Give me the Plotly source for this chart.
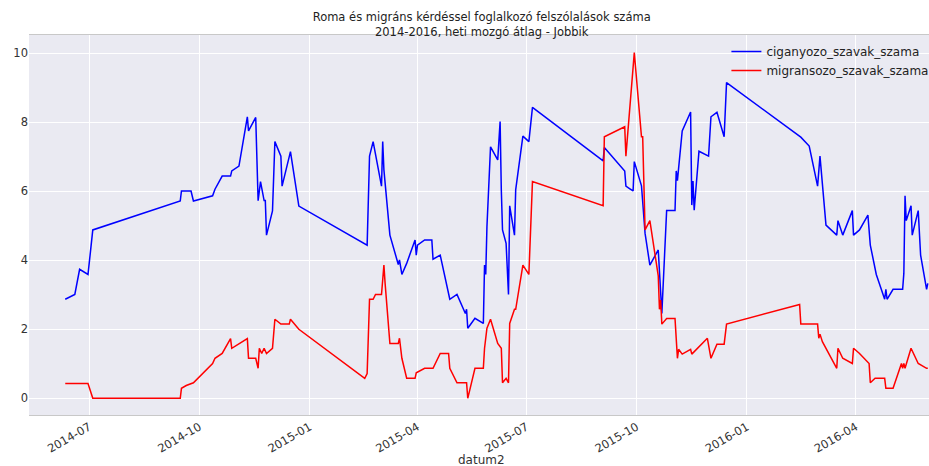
import plotly.graph_objects as go

# ---- data ----
cig_dates = [
    "2014-06-11", "2014-06-19", "2014-06-23", "2014-06-30", "2014-07-04", "2014-09-15", "2014-09-16",
    "2014-09-24", "2014-09-26", "2014-10-12", "2014-10-14", "2014-10-20", "2014-10-27", "2014-10-28",
    "2014-11-03", "2014-11-10", "2014-11-11", "2014-11-17", "2014-11-19", "2014-11-21", "2014-11-24",
    "2014-11-25", "2014-11-26", "2014-12-01", "2014-12-03", "2014-12-08", "2014-12-09", "2014-12-16",
    "2014-12-23",
    "2015-02-17", "2015-02-18", "2015-02-20", "2015-02-23", "2015-03-02", "2015-03-03", "2015-03-04",
    "2015-03-09", "2015-03-16", "2015-03-17", "2015-03-19", "2015-03-23", "2015-03-30", "2015-03-31",
    "2015-04-01", "2015-04-07", "2015-04-13", "2015-04-14", "2015-04-20", "2015-04-28", "2015-05-04",
    "2015-05-11", "2015-05-12", "2015-05-13", "2015-05-19", "2015-05-26", "2015-05-27", "2015-05-28",
    "2015-05-29", "2015-06-01", "2015-06-07", "2015-06-09", "2015-06-10", "2015-06-11", "2015-06-14",
    "2015-06-16", "2015-06-17", "2015-06-21", "2015-06-22", "2015-06-28", "2015-07-03", "2015-07-06",
    "2015-09-03", "2015-09-04", "2015-09-21", "2015-09-22", "2015-09-25", "2015-09-28", "2015-09-29",
    "2015-10-05", "2015-10-08", "2015-10-12", "2015-10-19", "2015-10-22", "2015-10-26", "2015-11-02",
    "2015-11-03", "2015-11-04", "2015-11-08", "2015-11-15", "2015-11-16", "2015-11-17", "2015-11-18",
    "2015-11-22", "2015-11-30", "2015-12-02", "2015-12-07", "2015-12-13", "2015-12-15",
    "2016-02-15", "2016-02-22", "2016-02-29", "2016-03-02", "2016-03-07", "2016-03-16", "2016-03-17",
    "2016-03-21", "2016-03-29", "2016-03-30", "2016-04-04", "2016-04-11", "2016-04-13", "2016-04-18",
    "2016-04-25", "2016-04-26", "2016-04-27", "2016-05-02", "2016-05-10", "2016-05-11", "2016-05-12",
    "2016-05-13", "2016-05-17", "2016-05-18", "2016-05-23", "2016-05-25", "2016-05-30", "2016-05-31",
]
cig_values = [
    2.87, 3.01, 3.74, 3.59, 4.88, 5.72, 6.01,
    6.01, 5.72, 5.87, 6.06, 6.44, 6.44, 6.59,
    6.73, 8.16, 7.75, 8.14, 5.73, 6.28, 5.73,
    5.73, 4.73, 5.43, 7.44, 7.02, 6.15, 7.15,
    5.57,
    4.44, 4.44, 7.02, 7.44, 6.15, 7.44, 6.62,
    4.73, 3.88, 4.01, 3.59, 3.91, 4.59, 4.15,
    4.44, 4.59, 4.59, 4.03, 4.15, 2.87, 3.01,
    2.46, 2.58, 2.03, 2.32, 2.17, 3.86, 3.59,
    4.97, 7.29, 6.91, 8.02, 6.04, 4.88, 4.49,
    3.01, 5.58, 4.73, 6.04, 7.60, 7.44, 8.43,
    6.88, 7.27, 6.59, 6.15, 6.08, 6.01, 6.86,
    6.16, 4.78, 3.86, 4.30, 2.46, 5.44, 5.44,
    6.59, 6.31, 7.75, 8.30, 5.60, 6.30, 5.45,
    7.16, 7.02, 8.16, 8.29, 7.58, 9.15,
    7.57, 7.31, 6.15, 7.02, 5.02, 4.73, 5.15,
    4.73, 5.44, 4.73, 4.88, 5.31, 4.44, 3.59,
    2.87, 3.16, 2.87, 3.16, 3.16, 3.62, 5.87,
    5.15, 5.58, 4.73, 5.44, 4.15, 3.16, 3.33,
]

mig_dates = [
    "2014-06-11", "2014-06-30", "2014-07-04", "2014-09-15", "2014-09-16", "2014-09-20", "2014-09-26",
    "2014-10-12", "2014-10-14", "2014-10-20", "2014-10-27", "2014-10-28", "2014-11-10", "2014-11-11",
    "2014-11-17", "2014-11-19", "2014-11-20", "2014-11-22", "2014-11-24", "2014-11-26", "2014-12-01",
    "2014-12-03", "2014-12-08", "2014-12-15", "2014-12-16", "2014-12-23",
    "2015-02-16", "2015-02-18", "2015-02-20", "2015-02-23", "2015-02-25", "2015-03-02", "2015-03-04",
    "2015-03-05", "2015-03-09", "2015-03-16", "2015-03-17", "2015-03-19", "2015-03-23", "2015-03-30",
    "2015-03-31", "2015-04-07", "2015-04-14", "2015-04-20", "2015-04-27", "2015-04-28", "2015-05-04",
    "2015-05-12", "2015-05-13", "2015-05-19", "2015-05-26", "2015-05-27", "2015-05-29", "2015-06-01",
    "2015-06-07", "2015-06-10", "2015-06-11", "2015-06-14", "2015-06-16", "2015-06-17", "2015-06-21",
    "2015-06-22", "2015-06-28", "2015-07-03", "2015-07-06",
    "2015-09-03", "2015-09-04", "2015-09-21", "2015-09-22", "2015-09-29", "2015-10-05", "2015-10-06",
    "2015-10-08", "2015-10-12", "2015-10-19", "2015-10-20", "2015-10-21", "2015-10-22", "2015-10-26",
    "2015-11-02", "2015-11-04", "2015-11-05", "2015-11-08", "2015-11-15", "2015-11-16", "2015-11-29",
    "2015-12-02", "2015-12-07", "2015-12-13", "2015-12-15",
    "2016-02-14", "2016-02-15", "2016-02-29", "2016-03-01", "2016-03-02", "2016-03-04", "2016-03-16",
    "2016-03-17", "2016-03-21", "2016-03-29", "2016-03-30", "2016-04-04", "2016-04-12", "2016-04-13",
    "2016-04-17", "2016-04-25", "2016-04-26", "2016-05-02", "2016-05-09", "2016-05-10", "2016-05-11",
    "2016-05-12", "2016-05-17", "2016-05-23", "2016-05-30", "2016-05-31",
]
mig_values = [
    0.43, 0.43, 0.0, 0.0, 0.29, 0.37, 0.45,
    1.01, 1.16, 1.30, 1.73, 1.45, 1.73, 1.16,
    1.16, 0.87, 1.45, 1.30, 1.45, 1.30, 1.45,
    2.29, 2.15, 2.15, 2.29, 2.00,
    0.58, 0.72, 2.87, 2.87, 3.01, 3.01, 3.86,
    3.33, 1.59, 1.59, 1.74, 1.16, 0.58, 0.58,
    0.74, 0.87, 0.87, 1.30, 1.30, 0.87, 0.45,
    0.45, 0.0, 0.87, 0.87, 1.45, 2.03, 2.29,
    1.59, 1.45, 0.45, 0.58, 0.45, 2.17, 2.58,
    2.58, 3.86, 3.59, 6.28,
    5.58, 7.58, 7.87, 7.02, 10.02, 7.58, 7.58,
    4.88, 5.15, 3.55, 2.58, 2.85, 2.15, 2.31,
    2.31, 1.16, 1.42, 1.28, 1.42, 1.28, 1.74,
    1.16, 1.57, 1.57, 2.15,
    2.72, 2.15, 2.15, 1.74, 1.86, 1.64, 0.87,
    1.45, 1.16, 1.01, 1.45, 1.30, 1.01, 0.45,
    0.58, 0.58, 0.29, 0.29, 1.01, 0.87, 1.01,
    0.87, 1.45, 1.01, 0.87, 0.87,
]

series_names = ["ciganyozo_szavak_szama", "migransozo_szavak_szama"]
title_lines = ["Roma és migráns kérdéssel foglalkozó felszólalások száma",
               "2014-2016, heti mozgó átlag - Jobbik"]
x_label = "datum2"

FONT = "DejaVu Sans"
TXT = "#333333"
DARK = "#222222"

fig = go.Figure()
fig.add_trace(go.Scatter(x=cig_dates, y=cig_values, mode="lines", name=series_names[0],
                         line=dict(color="#0000ff", width=1.5)))
fig.add_trace(go.Scatter(x=mig_dates, y=mig_values, mode="lines", name=series_names[1],
                         line=dict(color="#ff0000", width=1.5)))

# x-axis label as annotation below the rotated tick labels
fig.add_annotation(text=x_label, xref="paper", yref="paper", x=0.503, y=-0.118,
                   xanchor="center", yanchor="middle", showarrow=False,
                   font=dict(family=FONT, size=12, color=TXT))

fig.update_layout(
    width=929, height=466,
    margin=dict(l=29, r=0, t=35, b=51, autoexpand=False),
    paper_bgcolor="white",
    plot_bgcolor="#EAEAF2",
    font=dict(family=FONT, size=11.5, color=TXT),
    title=dict(text="<br>".join(title_lines), x=0.503, xref="paper", xanchor="center",
               y=1 - 21 / 466, yref="container", yanchor="middle",
               font=dict(family=FONT, size=11.5, color=DARK)),
    showlegend=True,
    legend=dict(x=1.006, xanchor="right", y=0.995, yanchor="top", bgcolor="rgba(0,0,0,0)",
                font=dict(family=FONT, size=12, color=DARK), tracegroupgap=0,
                itemwidth=30),
    xaxis=dict(
        range=["2014-05-11 18:00", "2016-06-01 00:00"],
        type="date",
        tickformat="%Y-%m", dtick="M3", tick0="2014-07-01",
        tickangle=-30,
        showgrid=True, gridcolor="white", gridwidth=1,
        zeroline=False, ticks="",
        showline=True, linecolor="#c8c8c8", linewidth=1, mirror=True,
        tickfont=dict(family=FONT, size=11.5, color=TXT),
        automargin=False,
    ),
    yaxis=dict(
        range=[-0.484, 10.53],
        tickvals=[0, 2, 4, 6, 8, 10],
        showgrid=True, gridcolor="white", gridwidth=1,
        zeroline=False, ticks="", showline=False,
        tickfont=dict(family=FONT, size=11.5, color=TXT),
        automargin=False,
    ),
)

fig.write_html(
    "out.html",
    config={"displayModeBar": False},
    post_script="document.body.style.margin='0';document.body.style.overflow='hidden';",
)
